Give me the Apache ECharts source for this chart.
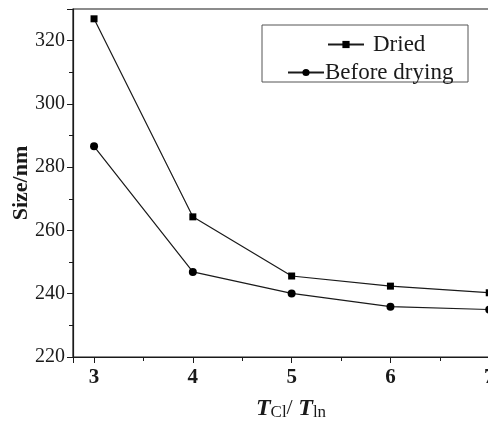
<!DOCTYPE html>
<html>
<head>
<meta charset="utf-8">
<script src="https://cdn.jsdelivr.net/npm/echarts@6/dist/echarts.min.js"></script>
<style>
  html, body { margin: 0; padding: 0; background: #fff; }
  #chart { width: 488px; height: 423px; }
</style>
</head>
<body>
<div id="chart"></div>
<script>
// T_Cl / T_In ratio
const ratios = [3, 4, 5, 6, 7]
// particle size, nm
const dried = [326.9, 264.3, 245.6, 242.4, 240.3]
const beforeDrying = [286.6, 246.9, 240.1, 235.9, 235.0]
const yTicks = [220, 240, 260, 280, 300, 320]

const serif = '"Liberation Serif", "Times New Roman", serif'
const ink = '#1a1a1a'

function pairs(xs, ys) {
  return xs.map((x, i) => [x, ys[i]])
}

const myChart = echarts.init(document.getElementById('chart'))

myChart.setOption({
  animation: false,
  backgroundColor: '#fff',
  // plot runs past the right edge of the picture
  grid: {
    left: 73,
    top: 9,
    width: 436,
    height: 348,
    outerBoundsMode: 'none',
    containLabel: false,
    show: true,
    borderColor: ink,
    borderWidth: 1.2
  },
  // legend box
  graphic: [
    {
      type: 'rect',
      shape: { x: 262, y: 25, width: 206, height: 57 },
      style: { fill: 'none', stroke: '#555', lineWidth: 1 }
    }
  ],
  legend: [
    {
      data: ['Dried'],
      left: 322,
      top: 28,
      itemWidth: 36,
      itemHeight: 9,
      textStyle: { fontFamily: serif, fontSize: 23, color: ink, padding: [0, 0, 0, 4] }
    },
    {
      data: ['Before drying'],
      left: 282,
      top: 56,
      itemWidth: 36,
      itemHeight: 9,
      textStyle: { fontFamily: serif, fontSize: 23, color: ink, padding: [0, 0, 0, -4] }
    }
  ],
  xAxis: {
    type: 'value',
    min: 2.787,
    max: 7.2,
    splitNumber: 5,
    name: '{t|T}{s|Cl}{sl|/ }{t|T}{s|ln}',
    nameLocation: 'middle',
    nameGap: 39,
    nameTextStyle: {
      rich: {
        t: { fontFamily: serif, fontSize: 24, fontWeight: 'bold', fontStyle: 'italic', color: ink },
        s: { fontFamily: serif, fontSize: 17, color: ink, verticalAlign: 'bottom', padding: [8, 0, 0, 0] },
        sl: { fontFamily: serif, fontSize: 22, color: ink }
      }
    },
    axisLine: { onZero: false, lineStyle: { color: ink, width: 1.2 } },
    axisTick: { inside: false, length: 6, lineStyle: { color: ink } },
    minorTick: { show: true, splitNumber: 2, length: 4, lineStyle: { color: ink } },
    splitLine: { show: false },
    axisLabel: {
      showMinLabel: false,
      showMaxLabel: false,
      margin: 10,
      fontFamily: serif,
      fontSize: 21,
      fontWeight: 'bold',
      color: ink
    }
  },
  yAxis: {
    type: 'value',
    min: yTicks[0],
    max: 330,
    interval: 20,
    name: 'Size/nm',
    nameLocation: 'middle',
    nameGap: 41,
    nameMoveOverlap: false,
    nameTextStyle: { fontFamily: serif, fontSize: 22, fontWeight: 'bold', color: ink },
    axisLine: { onZero: false, lineStyle: { color: ink, width: 1.2 } },
    axisTick: { inside: false, length: 6, lineStyle: { color: ink } },
    minorTick: { show: true, splitNumber: 2, length: 4, lineStyle: { color: ink } },
    splitLine: { show: false },
    axisLabel: {
      showMaxLabel: false,
      margin: 8,
      fontFamily: serif,
      fontSize: 20,
      color: ink,
      formatter: v => (yTicks.includes(v) ? String(v) : '')
    }
  },
  series: [
    {
      name: 'Dried',
      type: 'line',
      data: pairs(ratios, dried),
      symbol: 'rect',
      symbolSize: 7,
      lineStyle: { color: ink, width: 1.2 },
      itemStyle: { color: '#000' }
    },
    {
      name: 'Before drying',
      type: 'line',
      data: pairs(ratios, beforeDrying),
      symbol: 'circle',
      symbolSize: 8,
      lineStyle: { color: ink, width: 1.2 },
      itemStyle: { color: '#000' }
    }
  ]
})
</script>
</body>
</html>
